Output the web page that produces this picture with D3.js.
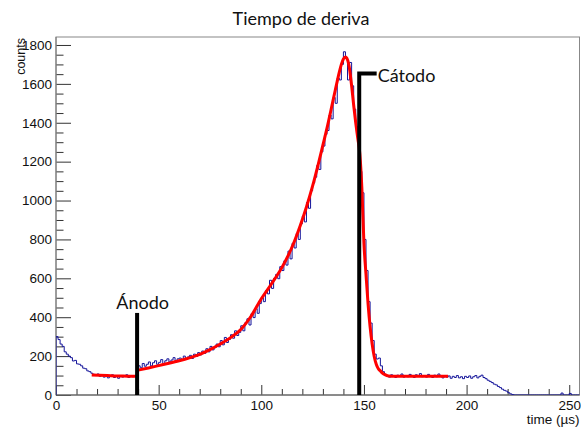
<!DOCTYPE html>
<html><head><meta charset="utf-8">
<script src="https://cdn.jsdelivr.net/npm/d3@7"></script>
<style>body{margin:0;background:#fff}svg{display:block}</style>
</head><body><svg id="c" width="581" height="428"></svg>
<script>
const title = "Tiempo de deriva";
const xLabel = "time (µs)";
const yLabel = "counts";
const binWidth = 1;
// histogram counts, bin i covers [i, i+1) µs
const counts = [
 300,285,262,250,222,210,200,192,175,178,
 160,158,150,138,135,124,120,112,106,100,
 108,96,104,92,100,88,98,104,90,95,
 86,100,92,97,104,90,98,94,100,96,
 150,140,162,148,158,170,150,166,176,158,
 168,182,162,176,186,170,180,192,174,186,
 190,178,200,184,196,204,188,210,198,218,
 206,226,214,238,222,250,232,244,262,248,
 280,258,296,270,286,310,292,330,306,322,
 356,330,372,392,360,418,398,444,420,470,
 500,480,536,520,590,548,600,620,598,660,
 640,690,668,740,700,780,756,830,800,880,
 920,890,990,960,1050,1090,1120,1180,1160,1250,
 1280,1340,1360,1440,1420,1530,1500,1630,1620,1700,
 1765,1730,1620,1710,1590,1470,1380,1300,1150,1040,
 800,640,480,370,280,210,185,190,150,120,
 100,98,92,104,96,90,102,95,108,92,
 100,94,106,98,90,104,96,110,94,100,
 92,106,98,90,102,94,108,96,88,100,
 92,98,86,96,90,100,88,94,84,96,
 90,98,86,94,100,88,96,102,90,84,
 76,70,64,56,52,44,38,30,24,20,
 12,6,2,0,0,0,0,0,0,0,
 0,0,0,0,0,0,0,0,0,0,
 0,0,0,0,0,0,10,0,0,0,
 8,0,0,0,0
];
// fit curves (red)
const fitFlatT = [17.4, 25, 30, 35, 39.3];
const fitFlatV = [103, 100, 98, 97, 96];
const fitT = [40,45,50,55,60,65,70,75,80,85,90,95,100,105,110,113,116,119,122,125,128,130,132,134,136,137,138,139,140,141,142,143,144,145,146,147,148,149,150,151,152,153,154,155,156,157,158,159,160,162,165,175,185,191];
const fitV = [128,139,151,163,176,191,209,233,262,295,337,405,495,572,655,715,787,872,967,1075,1198,1285,1372,1468,1566,1614,1660,1700,1728,1738,1724,1675,1590,1490,1400,1320,1240,1060,780,620,470,350,262,198,158,135,124,113,106,98,97,97,97,97];
const xTicks = [0,50,100,150,200,250];
const yTicks = [0,200,400,600,800,1000,1200,1400,1600,1800];
const markerLabels = ["Ánodo","Cátodo"];
const markerT = [39.5, 147.7];
const markerTop = [422, 1653];
const cathodeArmEnd = 156.2;

const svg = d3.select("#c");
const L=56, R=579.5, T=37, B=395;
const x = d3.scaleLinear([0,255],[L,R]);
const y = d3.scaleLinear([0,1841],[B,T]);

svg.append("text").attr("x",301).attr("y",25).attr("text-anchor","middle")
  .attr("font-family","Lato, 'Open Sans', sans-serif").attr("font-size",18).attr("fill","#111").text(title);

svg.append("defs").append("clipPath").attr("id","clip").append("rect")
  .attr("x",L).attr("y",T).attr("width",R-L).attr("height",B-T);

const tickFont = "'Liberation Sans', Arial, sans-serif";
const fmt = d3.format("d");
const gy = svg.append("g").attr("transform",`translate(${L},0)`)
  .call(d3.axisLeft(y).tickValues(yTicks).tickFormat(fmt).tickSizeInner(-15).tickSizeOuter(0).tickPadding(4));
const yMinor = d3.range(0,1841,50).filter(v=>v%200!==0);
const gym = svg.append("g").attr("transform",`translate(${L},0)`)
  .call(d3.axisLeft(y).tickValues(yMinor).tickSizeInner(-7.5).tickSizeOuter(0).tickFormat(""));
const gx = svg.append("g").attr("transform",`translate(0,${B})`)
  .call(d3.axisBottom(x).tickValues(xTicks).tickFormat(fmt).tickSizeInner(-10).tickSizeOuter(0).tickPadding(5.5));
const xMinor = d3.range(0,256,10).filter(v=>v%50!==0);
const gxm = svg.append("g").attr("transform",`translate(0,${B})`)
  .call(d3.axisBottom(x).tickValues(xMinor).tickSizeInner(-6).tickSizeOuter(0).tickFormat(""));
[gy,gym,gx,gxm].forEach(g=>{
  g.select(".domain").remove();
  g.selectAll("line").attr("stroke","#333");
  g.selectAll("text").attr("font-family",tickFont).attr("font-size",13.5).attr("fill","#111");
});

// frame
svg.append("rect").attr("x",L).attr("y",T).attr("width",R-L).attr("height",B-T)
  .attr("fill","none").attr("stroke","#888").attr("stroke-width",1);
svg.append("line").attr("x1",L).attr("x2",L).attr("y1",T).attr("y2",B).attr("stroke","#777");
svg.append("line").attr("x1",L).attr("x2",R).attr("y1",B).attr("y2",B).attr("stroke","#555");

// histogram
const pts = [[0,0]].concat(counts.map((c,i)=>[i*binWidth,c]));
pts.push([counts.length*binWidth, counts[counts.length-1]]);
svg.append("path").attr("clip-path","url(#clip)")
  .attr("d", d3.line().x(d=>x(d[0])).y(d=>y(d[1])).curve(d3.curveStepAfter)(pts))
  .attr("fill","none").attr("stroke","#14149a").attr("stroke-width",1);

// fits
const fitLine = d3.line().x(d=>x(d[0])).y(d=>y(d[1])).curve(d3.curveMonotoneX);
svg.append("path").attr("d", fitLine(d3.zip(fitFlatT,fitFlatV)))
  .attr("fill","none").attr("stroke","#ff0000").attr("stroke-width",3);
svg.append("path").attr("d", fitLine(d3.zip(fitT,fitV)))
  .attr("fill","none").attr("stroke","#ff0000").attr("stroke-width",3);

// markers
const annFont = "Lato, 'Open Sans', sans-serif";
svg.append("line").attr("x1",x(markerT[0])).attr("x2",x(markerT[0]))
  .attr("y1",y(0)).attr("y2",y(markerTop[0])).attr("stroke","#000").attr("stroke-width",4);
svg.append("text").attr("x",x(markerT[0])+5.5).attr("y",y(markerTop[0])-4)
  .attr("text-anchor","middle").attr("font-family",annFont).attr("font-size",18).attr("fill","#111").text(markerLabels[0]);
svg.append("path").attr("d",`M${x(markerT[1])},${y(0)}V${y(markerTop[1])}H${x(cathodeArmEnd)}`)
  .attr("fill","none").attr("stroke","#000").attr("stroke-width",4);
svg.append("text").attr("x",x(cathodeArmEnd)+1).attr("y",y(markerTop[1])+8)
  .attr("font-family",annFont).attr("font-size",18).attr("fill","#111").text(markerLabels[1]);

// axis titles
svg.append("text").attr("x",R).attr("y",424).attr("text-anchor","end")
  .attr("font-family",tickFont).attr("font-size",13.5).attr("fill","#111").text(xLabel);
svg.append("text").attr("transform",`translate(25,${T+1}) rotate(-90)`).attr("text-anchor","end")
  .attr("font-family",tickFont).attr("font-size",12.5).attr("fill","#111").text(yLabel);
</script></body></html>
